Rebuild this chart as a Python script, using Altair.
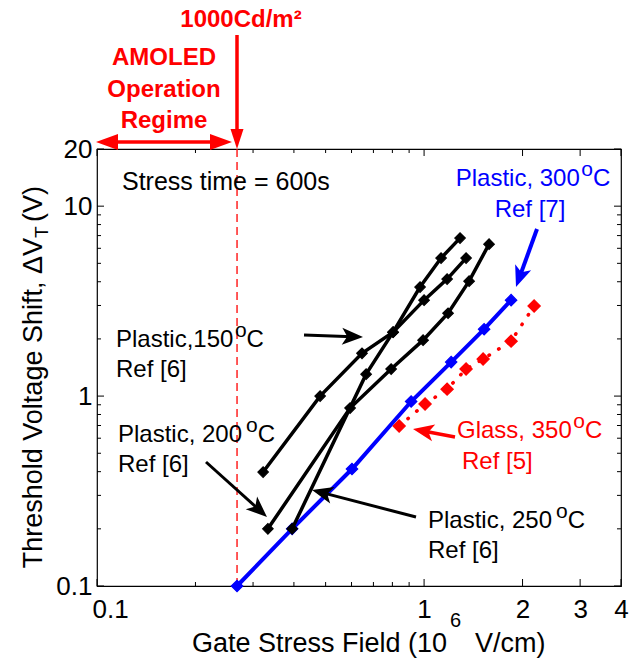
import math
import altair as alt
import pandas as pd

# ---------------- data ----------------
blue_x = [0.268, 0.395, 0.602, 0.913, 1.21, 1.526, 1.845]
blue_y = [0.1, 0.2, 0.413, 0.936, 1.51, 2.25, 3.2]
glass_x = [0.839, 1.007, 1.176, 1.344, 1.515, 1.845, 2.17]
glass_y = [0.695, 0.908, 1.088, 1.388, 1.566, 1.947, 2.98]
p150_x = [0.322, 0.481, 0.646, 0.804, 1.0, 1.176, 1.344]
p150_y = [0.398, 1.0, 1.68, 2.17, 3.2, 4.13, 5.33]
p200_x = [0.333, 0.594, 0.793, 0.993, 1.184, 1.373, 1.58]
p200_y = [0.2, 0.865, 1.388, 1.97, 2.73, 4.03, 6.31]
p250_x = [0.395, 0.665, 0.804, 0.972, 1.127, 1.288]
p250_y = [0.2, 1.305, 2.17, 3.75, 5.33, 6.79]
amoled_limit = [0.268]

x_label_vals = [0.1, 1, 2, 3, 4]
x_minor = [0.2, 0.3, 0.4, 0.5, 0.6, 0.7, 0.8, 0.9]
y_label_vals = [0.1, 1, 10, 20]
y_minor = [0.2, 0.3, 0.4, 0.5, 0.6, 0.7, 0.8, 0.9, 2, 3, 4, 5, 6, 7, 8, 9]

W, H = 524, 437
FONT = "Liberation Sans"
RED = "#ff0000"
BLUE = "#0000ff"

xs = alt.Scale(type="log", domain=[0.1, 4], nice=False)
ys = alt.Scale(type="log", domain=[0.1, 20], nice=False)
xaxis = alt.Axis(values=x_label_vals, format="~g", ticks=False, domain=False, grid=False,
                 labelFontSize=26, labelFont=FONT, labelColor="black", labelPadding=10,
                 labelFlush=False,
                 labelAlign=alt.condition("datum.value < 0.15", alt.value("left"), alt.value("center")),
                 labelOffset=alt.condition("datum.value < 0.15", alt.value(-5), alt.value(0)),
                 title=None)
yaxis = alt.Axis(values=y_label_vals, format="~g", ticks=False, domain=False, grid=False,
                 labelFontSize=26, labelFont=FONT, labelColor="black", labelPadding=5,
                 labelFlush=False, title=None)


def X(f):
    return alt.X(f"{f}:Q", scale=xs, axis=xaxis)


def Y(f):
    return alt.Y(f"{f}:Q", scale=ys, axis=yaxis)


def series(xv, yv, color, width, msize, dash=None):
    df = pd.DataFrame({"x": xv, "y": yv, "i": list(range(len(xv)))})
    kw = dict(color=color, strokeWidth=width)
    if dash:
        kw.update(strokeDash=dash, strokeCap="round")
    return [
        alt.Chart(df).mark_line(**kw).encode(x=X("x"), y=Y("y"), order="i:Q"),
        alt.Chart(df).mark_point(shape="diamond", filled=True, opacity=1, color=color,
                                 stroke=color, strokeWidth=1.2, size=msize)
        .encode(x=X("x"), y=Y("y")),
    ]


layers = []

# reference line (AMOLED operation limit)
layers.append(alt.Chart(pd.DataFrame({"x": amoled_limit}))
              .mark_rule(color=RED, strokeWidth=1.3, strokeDash=[8, 5])
              .encode(x=X("x")))


# ticks (inward, mirrored on all sides)
def tick_layers():
    out = []
    for vals, ln in ((x_label_vals, 7), (x_minor, 4)):
        d = pd.DataFrame({"v": vals})
        out.append(alt.Chart(d).mark_rule(color="black", strokeWidth=1)
                   .encode(x=X("v"), y=alt.value(H), y2=alt.value(H - ln)))
        out.append(alt.Chart(d).mark_rule(color="black", strokeWidth=1)
                   .encode(x=X("v"), y=alt.value(0), y2=alt.value(ln)))
    for vals, ln in ((y_label_vals, 7), (y_minor, 4)):
        d = pd.DataFrame({"v": vals})
        out.append(alt.Chart(d).mark_rule(color="black", strokeWidth=1)
                   .encode(y=Y("v"), x=alt.value(0), x2=alt.value(ln)))
        out.append(alt.Chart(d).mark_rule(color="black", strokeWidth=1)
                   .encode(y=Y("v"), x=alt.value(W), x2=alt.value(W - ln)))
    return out


layers += tick_layers()

# data series
layers += series(blue_x, blue_y, BLUE, 4, 130)
layers += series(p150_x, p150_y, "black", 3.5, 110)
layers += series(p200_x, p200_y, "black", 3.5, 110)
layers += series(p250_x, p250_y, "black", 3.5, 110)
layers += series(glass_x, glass_y, RED, 3.5, 150, dash=[0.5, 11])


# ---------------- annotations (pixel positions relative to plot area) ----------------
def label(text, x, y, color="black", size=24, align="left", bold=False, angle=None,
          baseline="alphabetic"):
    kw = dict(align=align, baseline=baseline, font=FONT, fontSize=size, color=color,
              fontWeight="bold" if bold else "normal")
    if angle is not None:
        kw["angle"] = angle
    return (alt.Chart(pd.DataFrame({"t": [text]})).mark_text(**kw)
            .encode(text="t:N", x=alt.value(x), y=alt.value(y)))


# Arial / Liberation Sans advance widths (per em)
ADV = {"P": .667, "l": .222, "a": .556, "s": .5, "t": .278, "i": .222, "c": .5, ",": .278,
       " ": .278, "G": .778, "C": .722, "o": .556}


def text_w(s, size):
    return sum(ADV.get(ch, .556) for ch in s) * size


def deg_label(prefix, x, y, color="black", size=24, center=False, gap=1.5):
    """prefix + superscript 'o' + 'C' (degrees Celsius, as in the original)"""
    osz = 21
    w_pre = text_w(prefix, size)
    w_o = text_w("o", osz)
    w_c = text_w("C", size)
    if center:
        x = x - (w_pre + gap + w_o + w_c) / 2
    return [label(prefix, x, y, color=color, size=size),
            label("o", x + w_pre + gap, y - 10, color=color, size=osz),
            label("C", x + w_pre + gap + w_o, y, color=color, size=size)]


def head(x, y, ux, uy, color, headlen, headw, barbed):
    unit = headlen / 1.6
    w = headw / 2 / unit
    if barbed:
        path = f"M0,-1L{w:.3f},0.6L0,0.2L{-w:.3f},0.6Z"
    else:
        path = f"M0,-1L{w:.3f},0.6L{-w:.3f},0.6Z"
    ang = math.degrees(math.atan2(ux, -uy)) % 360
    cx, cy = x - ux * unit, y - uy * unit
    return (alt.Chart(pd.DataFrame({"a": [0]}))
            .mark_point(shape=path, filled=True, opacity=1, color=color, strokeWidth=0,
                        size=(2 * unit) ** 2, angle=ang)
            .encode(x=alt.value(cx), y=alt.value(cy)))


def arrow(x1, y1, x2, y2, color="black", width=3, headlen=21, headw=17, barbed=True,
          double=False):
    dx, dy = x2 - x1, y2 - y1
    L = math.hypot(dx, dy)
    ux, uy = dx / L, dy / L
    ex, ey = x2 - ux * headlen * 0.5, y2 - uy * headlen * 0.5
    sx, sy = x1, y1
    if double:
        sx, sy = x1 + ux * headlen * 0.5, y1 + uy * headlen * 0.5
    out = [alt.Chart(pd.DataFrame({"a": [0]}))
           .mark_rule(color=color, strokeWidth=width)
           .encode(x=alt.value(sx), y=alt.value(sy), x2=alt.value(ex), y2=alt.value(ey)),
           head(x2, y2, ux, uy, color, headlen, headw, barbed)]
    if double:
        out.append(head(x1, y1, -ux, -uy, color, headlen, headw, barbed))
    return out


ann = []
ann.append(label("Stress time = 600s", 25, 41, size=25))
ann += deg_label("Plastic,150", 19, 198)
ann.append(label("Ref [6]", 19, 228))
ann += deg_label("Plastic, 200", 21, 293, gap=4)
ann.append(label("Ref [6]", 21, 323))
ann += deg_label("Plastic, 250", 331, 379, gap=4)
ann.append(label("Ref [6]", 331, 409))
ann += deg_label("Glass, 350", 360, 289, color=RED)
ann.append(label("Ref [5]", 365, 320, color=RED))
ann += deg_label("Plastic, 300", 436, 37, color=BLUE, center=True)
ann.append(label("Ref [7]", 433, 68, color=BLUE, align="center"))

ann += arrow(207, 186, 266, 188)
ann += arrow(109, 313, 170, 368)
ann += arrow(319, 368, 215, 341)
ann += arrow(358, 288, 316, 280, color=RED, width=3.5)
ann += arrow(440, 80, 419, 138, color=BLUE, width=4)

# outside the plot area: AMOLED regime
ann.append(label("1000Cd/m²", 144, -122, color=RED, bold=True, align="center"))
ann.append(label("AMOLED", 67, -84, color=RED, bold=True, align="center"))
ann.append(label("Operation", 67, -52, color=RED, bold=True, align="center"))
ann.append(label("Regime", 67, -21, color=RED, bold=True, align="center"))
ann += arrow(140, -114, 140, 0, color=RED, width=3.5, headlen=20, headw=13, barbed=False)
ann += arrow(-1, -7, 135, -7, color=RED, width=3.5, headlen=22, headw=16, barbed=False,
             double=True)

# axis titles (with sub/superscripts)
ann.append(label("Gate Stress Field (10", 350, 503, size=27, align="right"))
ann.append(label("6", 353, 478, size=20))
ann.append(label("V/cm)", 378, 503, size=27))
ann.append(label("Threshold Voltage Shift, ΔV", -55, 89, size=27, align="right", angle=270))
ann.append(label("T", -49, 89, size=19, align="left", angle=270))
ann.append(label("(V)", -55, 73, size=27, align="left", angle=270))

chart = (alt.layer(*layers, *ann)
         .properties(width=W, height=H, autosize="none",
                     padding={"left": 97, "top": 149, "right": 8, "bottom": 77},
                     background="white")
         .configure_view(stroke="black", strokeWidth=1.2))

chart.save("out.html", embed_options={"renderer": "svg", "actions": False})
